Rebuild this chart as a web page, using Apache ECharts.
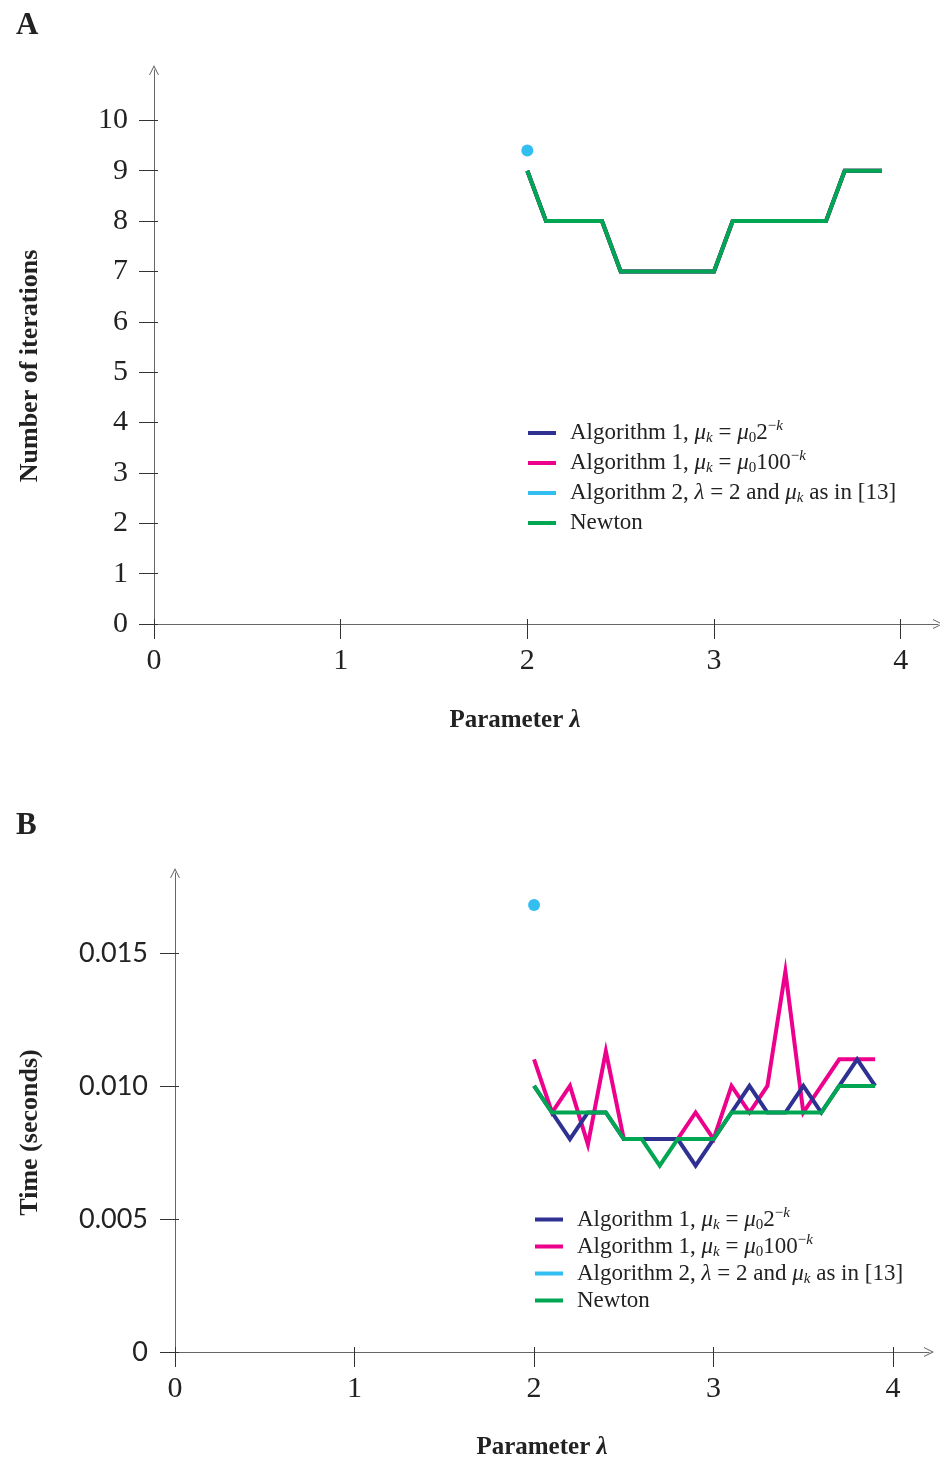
<!DOCTYPE html>
<html>
<head>
<meta charset="utf-8">
<title>Iterations and time versus parameter λ</title>
<script src="https://cdn.jsdelivr.net/npm/echarts@6/dist/echarts.min.js"></script>
<style>
  html, body { margin: 0; padding: 0; background: #fff; }
  #chart { width: 940px; height: 1463px; }
</style>
</head>
<body>
<div id="chart"></div>
<script>
// Parameter values sampled for every method
const lambdas = [2.0, 2.1, 2.2, 2.3, 2.4, 2.5, 2.6, 2.7, 2.8, 2.9, 3.0, 3.1, 3.2, 3.3, 3.4, 3.5, 3.6, 3.7, 3.8, 3.9];

// Panel A: number of iterations
const iterAlg1Half    = [9, 8, 8, 8, 8, 7, 7, 7, 7, 7, 7, 8, 8, 8, 8, 8, 8, 9, 9, 9];
const iterAlg1Hundred = [9, 8, 8, 8, 8, 7, 7, 7, 7, 7, 7, 8, 8, 8, 8, 8, 8, 9, 9, 9];
const iterNewton      = [9, 8, 8, 8, 8, 7, 7, 7, 7, 7, 7, 8, 8, 8, 8, 8, 8, 9, 9, 9];
const alg2Lambda = [2.0];
const iterAlg2   = [9.4];

// Panel B: time in seconds
const timeAlg1Half    = [0.010, 0.009, 0.008, 0.009, 0.009, 0.008, 0.008, 0.008, 0.008, 0.007, 0.008, 0.009, 0.010, 0.009, 0.009, 0.010, 0.009, 0.010, 0.011, 0.010];
const timeAlg1Hundred = [0.011, 0.009, 0.010, 0.0078, 0.0113, 0.008, 0.008, 0.008, 0.008, 0.009, 0.008, 0.010, 0.009, 0.010, 0.0143, 0.009, 0.010, 0.011, 0.011, 0.011];
const timeNewton      = [0.010, 0.009, 0.009, 0.009, 0.009, 0.008, 0.008, 0.007, 0.008, 0.008, 0.008, 0.009, 0.009, 0.009, 0.009, 0.009, 0.009, 0.010, 0.010, 0.010];
const timeAlg2        = [0.0168];

// Tick values and labels
const xTicks = [0, 1, 2, 3, 4];
const iterTicks = [0, 1, 2, 3, 4, 5, 6, 7, 8, 9, 10];
const timeTicks = [0, 0.005, 0.010, 0.015];
const timeTickLabels = ['0', '0.005', '0.010', '0.015'];

// Series names and colours
const NAME_A1H = 'alg1-half';
const NAME_A1C = 'alg1-hundred';
const NAME_A2  = 'alg2';
const NAME_NEW = 'newton';
const colors = {
  [NAME_A1H]: '#2E3192',
  [NAME_A1C]: '#EC008C',
  [NAME_A2]:  '#00AEEF',
  [NAME_NEW]: '#00A651'
};

const SERIF = '"Liberation Serif", "DejaVu Serif", serif';
const SANS = 'Lato, "Open Sans", sans-serif';
const TEXT = '#222';
const AXIS = '#666';

function pairs(xs, ys) { return xs.map((x, i) => [x, ys[i]]); }

// Legend labels with math italics, subscripts and superscripts
const legendText = {
  [NAME_A1H]: '{s|}Algorithm 1, {i|μ}{sbi|k}{t| = }{i|μ}{sb|0}{t|2}{sp|−}{spi|k}',
  [NAME_A1C]: '{s|}Algorithm 1, {i|μ}{sbi|k}{t| = }{i|μ}{sb|0}{t|100}{sp|−}{spi|k}',
  [NAME_A2]:  '{s|}Algorithm 2, {i|λ}{t| = 2 and }{i|μ}{sbi|k}{t| as in [13]}',
  [NAME_NEW]: '{s|}Newton'
};

function legendRich(lh) {
  const fs = 23, small = 15;
  const subPad = [0, 0, Math.max(0, lh / 2 - 13), 0];
  const supPad = [Math.max(0, lh / 2 - 14), 0, 0, 0];
  return {
    s:   { width: 9 },
    t:   { fontFamily: SERIF, fontSize: fs, color: TEXT, lineHeight: lh },
    i:   { fontFamily: SERIF, fontSize: fs, fontStyle: 'italic', color: TEXT, lineHeight: lh },
    sb:  { fontFamily: SERIF, fontSize: small, color: TEXT, lineHeight: small, verticalAlign: 'bottom', padding: subPad },
    sbi: { fontFamily: SERIF, fontSize: small, fontStyle: 'italic', color: TEXT, lineHeight: small, verticalAlign: 'bottom', padding: subPad },
    sp:  { fontFamily: SERIF, fontSize: small, color: TEXT, lineHeight: small, verticalAlign: 'top', padding: supPad },
    spi: { fontFamily: SERIF, fontSize: small, fontStyle: 'italic', color: TEXT, lineHeight: small, verticalAlign: 'top', padding: supPad }
  };
}

function makeLegend(left, top, lh) {
  return {
    orient: 'vertical',
    left: left,
    top: top,
    padding: 0,
    icon: 'rect',
    itemWidth: 28,
    itemHeight: 4,
    itemGap: 0,
    selectedMode: false,
    data: [NAME_A1H, NAME_A1C, NAME_A2, NAME_NEW],
    formatter: name => legendText[name],
    textStyle: { fontFamily: SERIF, fontSize: 23, color: TEXT, lineHeight: lh, rich: legendRich(lh) }
  };
}

const arrowPath = 'path://M0,10 L5,0 L10,10 L9,10 L5,2.2 L1,10 Z';

const nameRich = {
  i: { fontFamily: SERIF, fontSize: 25, fontStyle: 'italic', fontWeight: 'bold', color: TEXT }
};

function mainX(gridIndex, nameGap, namePad) {
  return {
    type: 'value', gridIndex: gridIndex, min: 0, max: 4.2,
    name: 'Parameter {i|λ}', nameLocation: 'middle', nameGap: nameGap,
    nameTextStyle: { fontFamily: SERIF, fontSize: 25, fontWeight: 'bold', color: TEXT, padding: namePad, rich: nameRich },
    axisLine: { show: true, lineStyle: { color: AXIS, width: 1 }, symbol: ['none', arrowPath], symbolSize: [10, 12] },
    axisTick: { show: true, length: 15, lineStyle: { color: '#333', width: 1 }, customValues: xTicks },
    axisLabel: { show: true, margin: 22, fontFamily: SERIF, fontSize: 30, color: TEXT, customValues: xTicks },
    splitLine: { show: false }
  };
}
function innerX(gridIndex) {
  return {
    type: 'value', gridIndex: gridIndex, min: 0, max: 4.2, position: 'bottom',
    axisLine: { show: false },
    axisTick: { show: true, inside: true, length: 5, lineStyle: { color: '#333', width: 1 }, customValues: xTicks },
    axisLabel: { show: false },
    splitLine: { show: false }
  };
}
function innerY(gridIndex, max, ticks) {
  return {
    type: 'value', gridIndex: gridIndex, min: 0, max: max, position: 'left',
    axisLine: { show: false },
    axisTick: { show: true, inside: true, length: 4, lineStyle: { color: '#333', width: 1 }, customValues: ticks },
    axisLabel: { show: false },
    splitLine: { show: false }
  };
}

function lineSeries(name, xi, yi, xs, ys, z) {
  return {
    name: name, type: 'line', xAxisIndex: xi, yAxisIndex: yi,
    data: pairs(xs, ys), showSymbol: false, symbol: 'none', z: z,
    lineStyle: { color: colors[name], width: 4, join: 'miter' },
    itemStyle: { color: colors[name] },
    animation: false
  };
}
function dotSeries(name, xi, yi, xs, ys) {
  return {
    name: name, type: 'scatter', xAxisIndex: xi, yAxisIndex: yi,
    data: pairs(xs, ys), symbolSize: 12, z: 5,
    itemStyle: { color: colors[name] },
    animation: false
  };
}

const option = {
  backgroundColor: '#fff',
  animation: false,
  title: [
    { text: 'A', left: 11, top: 5, textStyle: { fontFamily: SERIF, fontSize: 31, fontWeight: 'bold', color: TEXT } },
    { text: 'B', left: 11, top: 805, textStyle: { fontFamily: SERIF, fontSize: 31, fontWeight: 'bold', color: TEXT } }
  ],
  grid: [
    { left: 154, top: 70, width: 784, height: 554, containLabel: false },
    { left: 175, top: 873, width: 754, height: 479, containLabel: false }
  ],
  xAxis: [
    mainX(0, 84, [0, 62, 0, 0]),
    mainX(1, 83, [0, 20, 0, 0]),
    innerX(0),
    innerX(1)
  ],
  yAxis: [
    {
      type: 'value', gridIndex: 0, min: 0, max: 11,
      name: 'Number of iterations', nameLocation: 'middle', nameGap: 111, nameRotate: 90,
      nameTextStyle: { fontFamily: SERIF, fontSize: 26, fontWeight: 'bold', color: TEXT, padding: [0, 38, 0, 0] },
      axisLine: { show: true, lineStyle: { color: AXIS, width: 1 }, symbol: ['none', arrowPath], symbolSize: [10, 12] },
      axisTick: { show: true, length: 15, lineStyle: { color: '#333', width: 1 }, customValues: iterTicks },
      axisLabel: { show: true, margin: 26, fontFamily: SERIF, fontSize: 30, color: TEXT, customValues: iterTicks },
      splitLine: { show: false }
    },
    {
      type: 'value', gridIndex: 1, min: 0, max: 0.018,
      name: 'Time (seconds)', nameLocation: 'middle', nameGap: 132, nameRotate: 90,
      nameTextStyle: { fontFamily: SERIF, fontSize: 26, fontWeight: 'bold', color: TEXT, padding: [0, 40, 0, 0] },
      axisLine: { show: true, lineStyle: { color: AXIS, width: 1 }, symbol: ['none', arrowPath], symbolSize: [10, 12] },
      axisTick: { show: true, length: 15, lineStyle: { color: '#333', width: 1 }, customValues: timeTicks },
      axisLabel: {
        show: true, margin: 27, fontFamily: SANS, fontSize: 27, color: TEXT, customValues: timeTicks,
        formatter: v => timeTickLabels[timeTicks.findIndex(t => Math.abs(t - v) < 1e-9)]
      },
      splitLine: { show: false }
    },
    innerY(0, 11, iterTicks),
    innerY(1, 0.018, timeTicks)
  ],
  legend: [
    makeLegend(528, 418, 30),
    makeLegend(535, 1206, 27)
  ],
  series: [
    // panel A
    lineSeries(NAME_A1C, 0, 0, lambdas, iterAlg1Hundred, 2),
    lineSeries(NAME_A1H, 0, 0, lambdas, iterAlg1Half, 3),
    dotSeries(NAME_A2, 0, 0, alg2Lambda, iterAlg2),
    lineSeries(NAME_NEW, 0, 0, lambdas, iterNewton, 4),
    // panel B
    lineSeries(NAME_A1C, 1, 1, lambdas, timeAlg1Hundred, 2),
    lineSeries(NAME_A1H, 1, 1, lambdas, timeAlg1Half, 3),
    dotSeries(NAME_A2, 1, 1, alg2Lambda, timeAlg2),
    lineSeries(NAME_NEW, 1, 1, lambdas, timeNewton, 4)
  ]
};

const chart = echarts.init(document.getElementById('chart'), null, { renderer: 'canvas' });
chart.setOption(option);
</script>
</body>
</html>
